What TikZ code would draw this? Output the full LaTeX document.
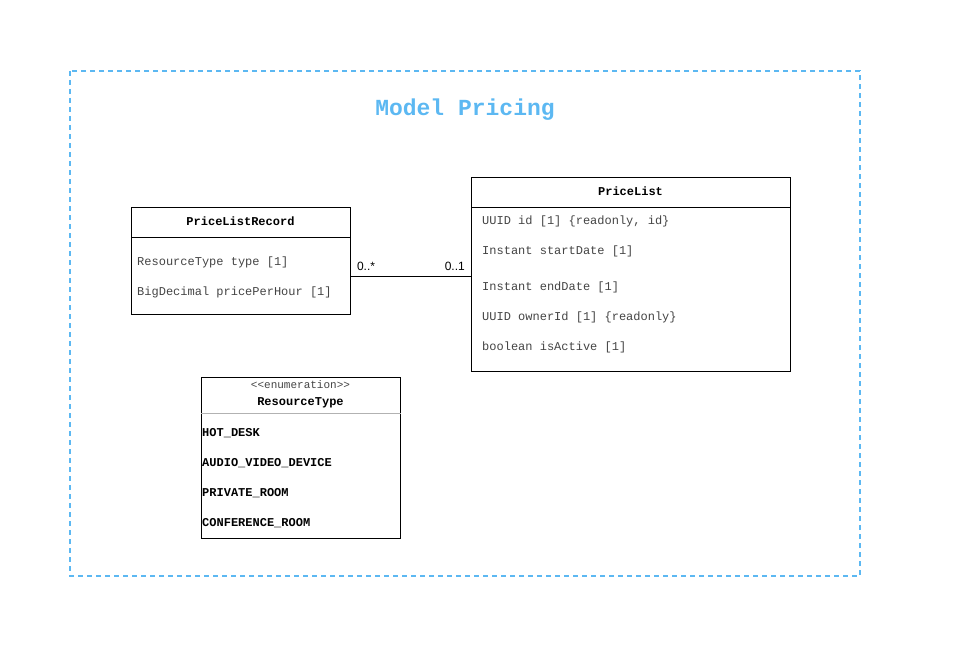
\documentclass[tikz,border=0pt]{standalone}
\usepackage{fontspec}
\setmainfont{Liberation Sans}
\setmonofont{Liberation Mono}
\usetikzlibrary{positioning}
\definecolor{frameblue}{HTML}{5CB8F2}
\definecolor{attrgray}{HTML}{444444}
\begin{document}
\begin{tikzpicture}[x=1pt,y=-1pt,
        every node/.style={font=\fontsize{12}{14}\selectfont\ttfamily},
        classbox/.style={draw,line width=0.8pt,anchor=north west,inner sep=0pt},
        attr/.style={anchor=west,inner sep=0pt,text=attrgray},
        literal/.style={anchor=west,inner sep=0pt,font=\fontsize{12}{14}\selectfont\ttfamily\bfseries},
        mult/.style={inner sep=0pt,font=\fontsize{12}{14}\selectfont\rmfamily}]
      \useasboundingbox (0,0) rectangle (960,650);
      % package frame
      \draw[frameblue,line width=1.6pt,dash pattern=on 5pt off 4pt] (70,71) rectangle (860,576);
      \node[text=frameblue,font=\fontsize{23}{27}\selectfont\ttfamily\bfseries] (title) at (465,110) {Model Pricing};
      % PriceListRecord
      \node[classbox,minimum width=219pt,minimum height=107pt] (rec) at (131,207) {};
      \node[font=\fontsize{12}{14}\selectfont\ttfamily\bfseries] (recname) at (240.5,221) {PriceListRecord};
      \draw ([yshift=-30pt]rec.north west) -- ([yshift=-30pt]rec.north east);
      \node[attr] (rec1) at (137,262) {ResourceType type [1]};
      \node[attr] (rec2) at (137,292) {BigDecimal pricePerHour [1]};
      % PriceList
      \node[classbox,minimum width=319pt,minimum height=194pt] (pl) at (471,177) {};
      \node[font=\fontsize{12}{14}\selectfont\ttfamily\bfseries] (plname) at (630.5,191) {PriceList};
      \draw ([yshift=-30pt]pl.north west) -- ([yshift=-30pt]pl.north east);
      \node[attr] (pl1) at (482,221) {UUID id [1] \{readonly, id\}};
      \node[attr] (pl2) at (482,251) {Instant startDate [1]};
      \node[attr] (pl3) at (482,287) {Instant endDate [1]};
      \node[attr] (pl4) at (482,317) {UUID ownerId [1] \{readonly\}};
      \node[attr] (pl5) at (482,347) {boolean isActive [1]};
      % association
      \coordinate (recend) at ([yshift=-15.5pt]rec.east);
      \draw[line width=0.8pt] (recend) -- (recend -| pl.west) coordinate (plend);
      \node[mult,anchor=south west] (m1) at ([xshift=6pt,yshift=6pt]recend) {0..*};
      \node[mult,anchor=south east] (m2) at ([xshift=-6pt,yshift=6pt]plend) {0..1};
      % ResourceType enumeration
      \node[classbox,minimum width=199pt,minimum height=161pt] (enum) at (201,377) {};
      \node[text=attrgray,font=\fontsize{11}{13}\selectfont\ttfamily] (stereo) at (300.5,385) {<<enumeration>>};
      \node[font=\fontsize{12}{14}\selectfont\ttfamily\bfseries] (enumname) at (300.5,403) {ResourceType};
      \draw[black!30] ([yshift=-36pt]enum.north west) -- ([yshift=-36pt]enum.north east);
      \node[literal] (lit1) at (202,433) {HOT\_DESK};
      \node[literal] (lit2) at (202,463) {AUDIO\_VIDEO\_DEVICE};
      \node[literal] (lit3) at (202,493) {PRIVATE\_ROOM};
      \node[literal] (lit4) at (202,523) {CONFERENCE\_ROOM};
\end{tikzpicture}
\end{document}
